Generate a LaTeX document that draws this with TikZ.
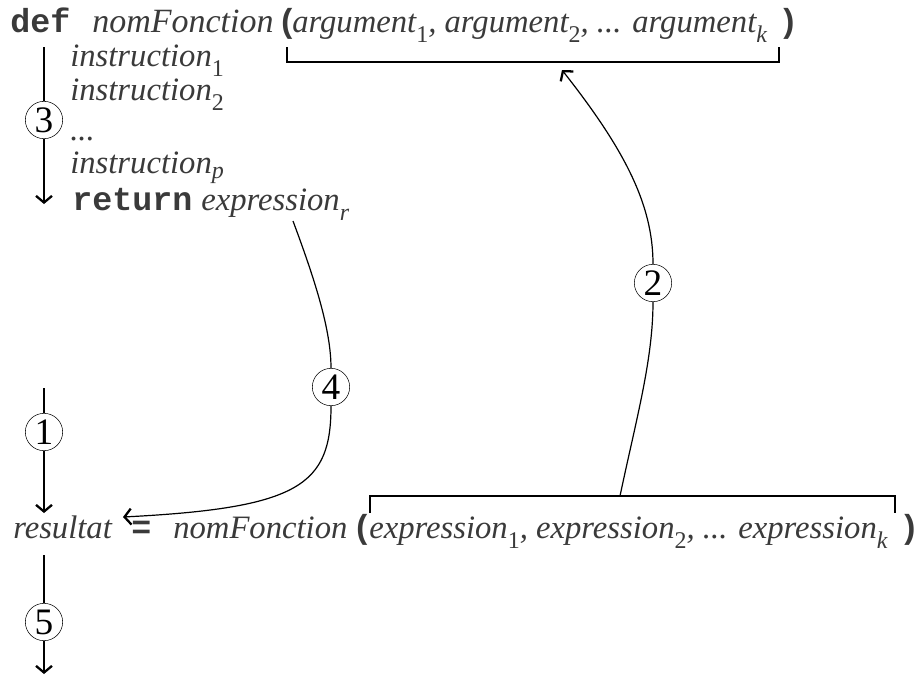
\documentclass[tikz,border=0pt]{standalone}
\usepackage{fontspec}
\setmainfont{Liberation Serif}
\setmonofont{Liberation Mono}
\usetikzlibrary{arrows.meta}
\definecolor{txtgray}{HTML}{3A3A3A}
\newcommand{\sub}[2][-8pt]{\raisebox{#1}{\fontsize{18}{18}\selectfont #2}}
\newcommand{\dig}[1]{\raisebox{-8pt}{\fontsize{18}{18}\selectfont\upshape #1}}
\begin{document}
\begin{tikzpicture}[
  x=0.75pt, y=-0.75pt,
  txt/.style={anchor=base west, inner sep=0pt, text=txtgray,
    font=\fontsize{24.5}{28}\selectfont\itshape},
  kwd/.style={anchor=base west, inner sep=0pt, text=txtgray,
    font=\fontsize{25}{28}\selectfont\ttfamily\bfseries},
  num/.style={circle, draw, inner sep=0pt, minimum size=28pt,
    font=\fontsize{28}{28}\selectfont},
  link/.style={line width=0.9pt},
  flow/.style={line width=0.9pt, -{Straight Barb[length=5pt,width=12pt,line width=1.7pt]}}
]
\useasboundingbox (0,0) rectangle (920,676);

% Definition of the function
\node[kwd] (def) at (10,32) {def};
\node[txt, font=\fontsize{25.5}{28}\selectfont\itshape] (fname) at (92,32) {nomFonction};
\node[kwd] (lpar) at (277,32) {(};
\node[txt] (args) at (292,32) {argument\dig{1}, argument\dig{2}, ... argument\sub{k}};
\node[kwd] (rpar) at (778,32) {)};
\node[txt] (ins1) at (70,66) {instruction\dig{1}};
\node[txt] (ins2) at (70,100) {instruction\dig{2}};
\node[txt] (dots) at (70,140) {...};
\node[txt] (insp) at (70,173) {instruction\sub[-4pt]{p}};
\node[kwd] (ret) at (72,210) {return};
\node[txt] (expr) at (201,210) {expression\sub{r}};

% Call of the function
\node[txt] (res) at (13,538) {resultat};
\node[kwd] (eq) at (131,538) {=};
\node[txt] (cname) at (173,538) {nomFonction};
\node[kwd] (clpar) at (352,538) {(};
\node[txt] (vals) at (369,538) {expression\dig{1}, expression\dig{2}, ... expression\sub{k}};
\node[kwd] (crpar) at (899,538) {)};

% Steps
\node[num] (s1) at (44,432) {1};
\node[num] (s2) at (653,283) {2};
\node[num] (s3) at (44,120) {3};
\node[num] (s4) at (331,387) {4};
\node[num] (s5) at (44,622) {5};

% Brackets
\coordinate (pa) at (287,47);
\coordinate (pb) at (779,47);
\coordinate (pmid) at (562,70);
\draw[link] (pa) -- (287,62) -- (779,62) -- (pb);
\coordinate (ea) at (370,513);
\coordinate (eb) at (895,513);
\coordinate (emid) at (620,496);
\draw[link] (ea) -- (370,496) -- (895,496) -- (eb);

% Arrows
\coordinate (in1) at (44,388);
\coordinate (out1) at (44,513);
\draw[link] (in1) -- (s1);
\draw[flow] (s1) -- (out1);

\draw[link] (emid) .. controls (636,420) and (653,360) .. (s2.south);
\draw[flow] (s2.north) .. controls (653,205) and (625,150) .. (pmid);

\coordinate (in3) at (44,47);
\coordinate (out3) at (44,204);
\draw[link] (in3) -- (s3);
\draw[flow] (s3) -- (out3);

\coordinate (rstart) at (293,221);
\coordinate (rend) at (123,517);
\draw[link] (rstart) .. controls (315,280) and (331,330) .. (s4.north);
\draw[flow] (s4.south) .. controls (331,485) and (300,508) .. (rend);

\coordinate (in5) at (44,555);
\coordinate (out5) at (44,674);
\draw[link] (in5) -- (s5);
\draw[flow] (s5) -- (out5);

\end{tikzpicture}
\end{document}
